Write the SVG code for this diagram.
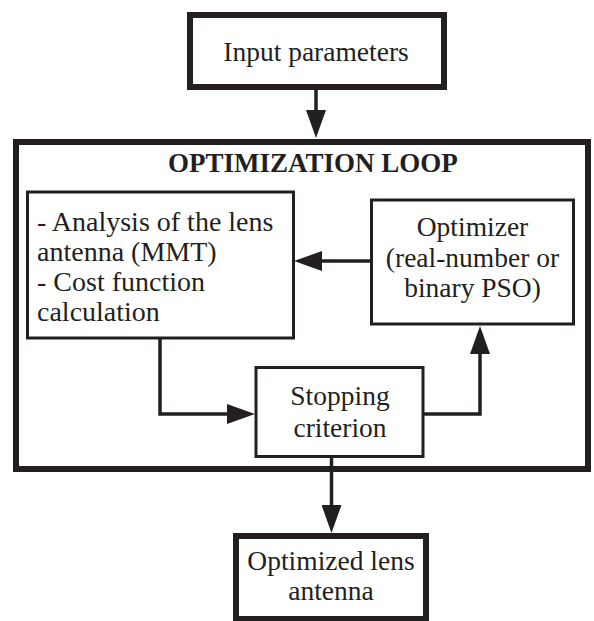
<svg xmlns="http://www.w3.org/2000/svg" width="594" height="621" viewBox="0 0 594 621">
<style>
.t{font-family:"Liberation Serif","Times New Roman",serif;font-size:27.5px;fill:#231f20}
.a{font-size:28px}
.b{font-family:"Liberation Serif","Times New Roman",serif;font-size:27px;font-weight:bold;fill:#231f20}
.thick{fill:#fff;stroke:#231f20;stroke-width:6}
.thin{fill:#fff;stroke:#231f20;stroke-width:3}
.c{fill:none;stroke:#231f20;stroke-width:3.5}
</style>
<defs>
<marker id="ah" viewBox="0 0 28 20" markerWidth="28" markerHeight="20" markerUnits="userSpaceOnUse" refX="18" refY="10" orient="auto">
<path d="M0,0 L28,10 L0,20 z" fill="#231f20"/>
</marker>
</defs>
<rect width="594" height="621" fill="#fff"/>
<g id="loop">
<rect class="thick" x="16" y="142" width="572" height="327"/>
<text class="b" x="168" y="171.5">OPTIMIZATION LOOP</text>
</g>
<g id="input">
<rect class="thick" x="190" y="15" width="254" height="72"/>
<text class="t" x="316" y="61" text-anchor="middle">Input parameters</text>
</g>
<g id="analysis">
<rect class="thin" x="27.5" y="192" width="266" height="146"/>
<text class="t a" x="37" y="231">- Analysis of the lens</text>
<text class="t a" x="37" y="261">antenna (MMT)</text>
<text class="t a" x="37" y="291">- Cost function</text>
<text class="t a" x="37" y="321">calculation</text>
</g>
<g id="optimizer">
<rect class="thin" x="371.5" y="200" width="202" height="124"/>
<text class="t" x="472.5" y="236" text-anchor="middle">Optimizer</text>
<text class="t" x="472.5" y="267" text-anchor="middle">(real-number or</text>
<text class="t" x="472.5" y="297" text-anchor="middle">binary PSO)</text>
</g>
<g id="stopping">
<rect class="thin" x="256" y="367.5" width="167" height="89"/>
<text class="t" x="340" y="405" text-anchor="middle">Stopping</text>
<text class="t" x="340" y="437" text-anchor="middle">criterion</text>
</g>
<g id="output">
<rect class="thick" x="236" y="536" width="190" height="83"/>
<text class="t" x="331" y="570" text-anchor="middle">Optimized lens</text>
<text class="t" x="331" y="600" text-anchor="middle">antenna</text>
</g>
<g id="connectors">
<path class="c" d="M316,90 V128" marker-end="url(#ah)"/>
<path class="c" d="M370,261 H304" marker-end="url(#ah)"/>
<path class="c" d="M160,339 V414 H245" marker-end="url(#ah)"/>
<path class="c" d="M423,414 H480 V336" marker-end="url(#ah)"/>
<path class="c" d="M331.5,457 V523" marker-end="url(#ah)"/>
</g>
</svg>
